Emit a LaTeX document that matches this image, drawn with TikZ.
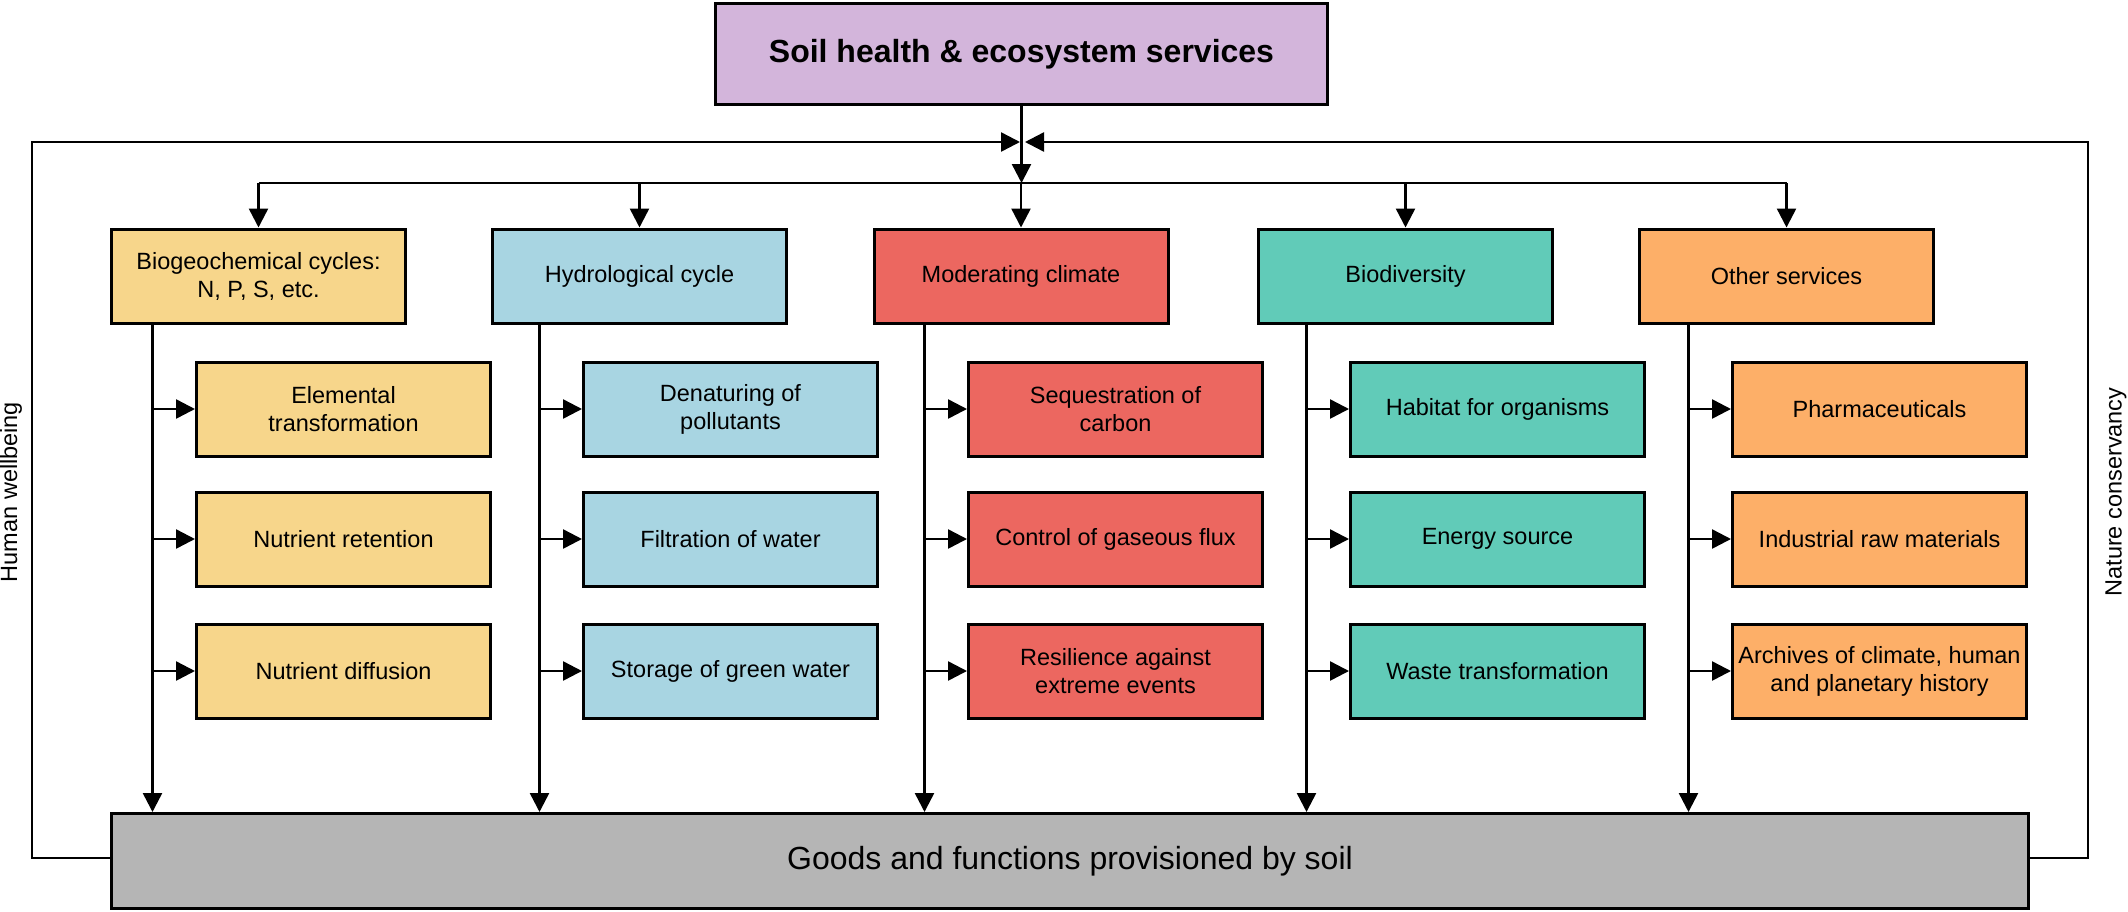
\documentclass[tikz,border=0pt]{standalone}
\usepackage{fontspec}
\setmainfont{Liberation Sans}
\usetikzlibrary{arrows.meta,calc}
\definecolor{clilac}{HTML}{D3B5DB}
\definecolor{cyellow}{HTML}{F7D68B}
\definecolor{cblue}{HTML}{A8D5E2}
\definecolor{cred}{HTML}{EC6760}
\definecolor{cteal}{HTML}{61CBB8}
\definecolor{corange}{HTML}{FDAF68}
\definecolor{cgray}{HTML}{B5B5B5}
\begin{document}
\begin{tikzpicture}[x=1pt,y=-1pt,
  box/.style={draw=black, line width=3pt, minimum width=294pt, minimum height=94pt,
    align=center, inner sep=2pt, font=\fontsize{23.5}{28}\selectfont},
  conn/.style={line width=2.5pt},
  arr/.style={conn, -{Triangle[length=19pt,width=19pt]}},
  sidelabel/.style={rotate=90, font=\fontsize{23.5}{28}\selectfont},
]
\useasboundingbox (0,0) rectangle (2128,911);
\fill[white] (0,0) rectangle (2128,911);

% top and bottom boxes
\node[box, fill=clilac, minimum width=612pt, minimum height=101pt,
      font=\fontsize{32}{38}\selectfont\bfseries] (top) at (1021.5,54) {Soil health \& ecosystem services};
\node[box, fill=cgray, minimum width=1917pt, minimum height=95pt,
      font=\fontsize{32}{38}\selectfont] (goods) at (1070,861) {Goods and functions provisioned by soil};

% main category boxes
\node[box, fill=cyellow] (bio) at (258.5,276) {Biogeochemical cycles:\\N, P, S, etc.};
\node[box, fill=cblue]   (hyd) at (639.5,276) {Hydrological cycle};
\node[box, fill=cred]    (mod) at (1021,276)  {Moderating climate};
\node[box, fill=cteal]   (bdv) at (1405.5,276) {Biodiversity};
\node[box, fill=corange] (oth) at (1786.5,276) {Other services};

% sub boxes
\node[box, fill=cyellow] (a1) at (343.5,409) {Elemental\\transformation};
\node[box, fill=cyellow] (a2) at (343.5,539) {Nutrient retention};
\node[box, fill=cyellow] (a3) at (343.5,671) {Nutrient diffusion};
\node[box, fill=cblue] (b1) at (730.5,409) {Denaturing of\\pollutants};
\node[box, fill=cblue] (b2) at (730.5,539) {Filtration of water};
\node[box, fill=cblue] (b3) at (730.5,671) {Storage of green water};
\node[box, fill=cred] (c1) at (1115.5,409) {Sequestration of\\carbon};
\node[box, fill=cred] (c2) at (1115.5,539) {Control of gaseous flux};
\node[box, fill=cred] (c3) at (1115.5,671) {Resilience against\\extreme events};
\node[box, fill=cteal] (d1) at (1497.5,409) {Habitat for organisms};
\node[box, fill=cteal] (d2) at (1497.5,539) {Energy source};
\node[box, fill=cteal] (d3) at (1497.5,671) {Waste transformation};
\node[box, fill=corange] (e1) at (1879.5,409) {Pharmaceuticals};
\node[box, fill=corange] (e2) at (1879.5,539) {Industrial raw materials};
\node[box, fill=corange] (e3) at (1879.5,671) {Archives of climate, human\\and planetary history};

% side labels
\node[sidelabel] (hw) at (11,492) {Human wellbeing};
\node[sidelabel] (nc) at (2116,492) {Nature conservancy};

% hub coordinates
\coordinate (hub) at (1021.5,183);
\coordinate (hubL) at (1020,142);
\coordinate (hubR) at (1025,142);
\coordinate (cornL) at (32,142);
\coordinate (cornR) at (2088,142);

% feedback loops
\draw[arr] ([yshift=3pt]goods.west) -| (cornL) -- (hubL);
\draw[arr] ([yshift=3pt]goods.east) -| (cornR) -- (hubR);

% top box to distribution line
\draw[arr] (top.south) -- (hub);
\draw[conn] (bio.north |- hub) -- (oth.north |- hub);
\foreach \n in {bio,hyd,mod,bdv,oth}{
  \draw[arr] (\n.north |- hub) -- (\n.north);
}

% column trunks
\foreach \m/\s/\x in {bio/a/1,hyd/b/2,mod/c/3,bdv/d/4,oth/e/5}{
  \coordinate (col\x) at ([xshift=-42.5pt]\s1.west);
  \draw[arr] (col\x |- \m.south) -- (col\x |- goods.north);
  \foreach \r in {1,2,3}{
    \draw[arr] (col\x |- \s\r.west) -- (\s\r.west);
  }
}
\end{tikzpicture}
\end{document}
